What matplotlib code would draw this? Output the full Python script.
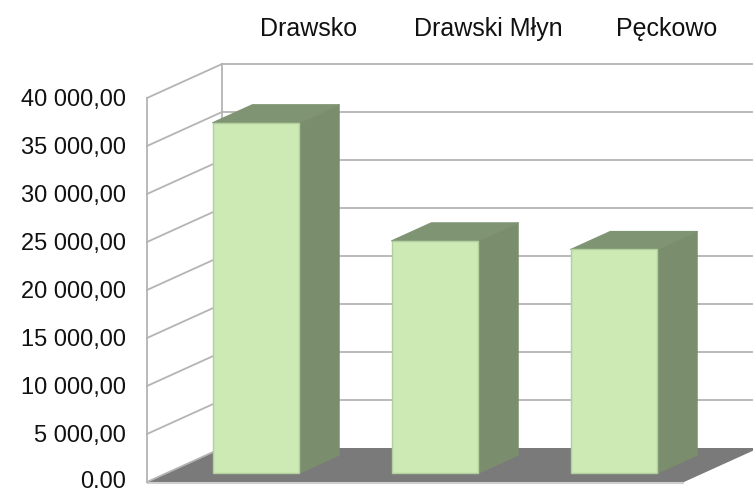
import matplotlib
matplotlib.use("Agg")
import matplotlib.pyplot as plt
from matplotlib.patches import Polygon

# ---- data ----
categories = ["Drawsko", "Drawski Młyn", "Pęckowo"]
values = [36500, 24200, 23300]
tick_values = [0, 5000, 10000, 15000, 20000, 25000, 30000, 35000, 40000]
tick_labels = ["0.00", "5 000,00", "10 000,00", "15 000,00", "20 000,00",
               "25 000,00", "30 000,00", "35 000,00", "40 000,00"]

# ---- styling / geometry ----
W_PX, H_PX = 753, 494
DPI = 100
X0_PX, Y0_PX = 147, 482          # front-left-bottom corner of the box
CAT_PX = 179                      # pixels per category
VAL_PX = 384 / 40000              # pixels per value unit
DX = 75 / CAT_PX                  # depth offset in category units
DY = 34 / VAL_PX                  # depth offset in value units
BW = 0.485                        # bar width (category units)
ZF, ZB = 0.26, 0.79               # bar front/back depth fraction
VMAX = 40000

grid_c = "#b4b4b4"
floor_c = "#7a7a7a"
front_c = "#cdeab5"
edge_c = "#b3cf9e"
side_c = "#7a8e6d"
top_c = "#7f9473"

fig = plt.figure(figsize=(W_PX / DPI, H_PX / DPI), dpi=DPI)
ax = fig.add_axes([0, 0, 1, 1])
ax.set_xlim(-X0_PX / CAT_PX, (W_PX - X0_PX) / CAT_PX)
ax.set_ylim(-(H_PX - Y0_PX) / VAL_PX, Y0_PX / VAL_PX)
ax.axis("off")

n = len(categories)
right = n + DX + 0.2

# floor
ax.add_patch(Polygon([(0, 0), (n, 0), (n + DX, DY), (DX, DY)],
                     closed=True, fc=floor_c, ec="none", zorder=1))
ax.plot([0, n], [-100, -100], color="#cfcfcf", lw=1.5, zorder=1.5,
        solid_capstyle="butt")

# walls: left-wall grid lines and back-wall grid lines
lw = 1.3
for v in tick_values:
    ax.plot([0, DX], [v, v + DY], color=grid_c, lw=lw, zorder=2)
    if v > 0:
        ax.plot([DX, right], [v + DY, v + DY], color=grid_c, lw=lw, zorder=2)
ax.plot([0, 0], [0, VMAX], color=grid_c, lw=lw, zorder=2)
ax.plot([DX, DX], [DY, VMAX + DY], color=grid_c, lw=lw, zorder=2)

# bars (3D look)
for i, v in enumerate(values):
    x0 = i + 0.5 - BW / 2
    x1 = i + 0.5 + BW / 2
    fx0, fx1 = x0 + ZF * DX, x1 + ZF * DX
    bx0, bx1 = x0 + ZB * DX, x1 + ZB * DX
    fy, by = ZF * DY, ZB * DY
    # side face
    ax.add_patch(Polygon([(fx1, fy), (bx1, by), (bx1, v + by), (fx1, v + fy)],
                         closed=True, fc=side_c, ec=side_c, lw=0.8, zorder=3,
                         joinstyle="round"))
    # top face
    ax.add_patch(Polygon([(fx0, v + fy), (fx1, v + fy), (bx1, v + by), (bx0, v + by)],
                         closed=True, fc=top_c, ec=top_c, lw=0.8, zorder=3,
                         joinstyle="round"))
    # front face
    ax.add_patch(Polygon([(fx0, fy), (fx1, fy), (fx1, v + fy), (fx0, v + fy)],
                         closed=True, fc=front_c, ec=edge_c, lw=1.0, zorder=4))

# value tick labels (front-left edge)
lab_x = -21 / CAT_PX
for v, t in zip(tick_values, tick_labels):
    off = 250 if v > 0 else -50
    ax.text(lab_x, v - off, t, ha="right", va="center",
            fontsize=17, family="Liberation Sans", color="#111111")

# category labels at top (back edge)
for i, c in enumerate(categories):
    ax.text(i + 0.5 + DX - 0.015, VMAX + DY + 35 / VAL_PX, c, ha="center",
            va="center", fontsize=18, family="Liberation Sans", color="#111111")

fig.savefig("out.png", dpi=DPI)
